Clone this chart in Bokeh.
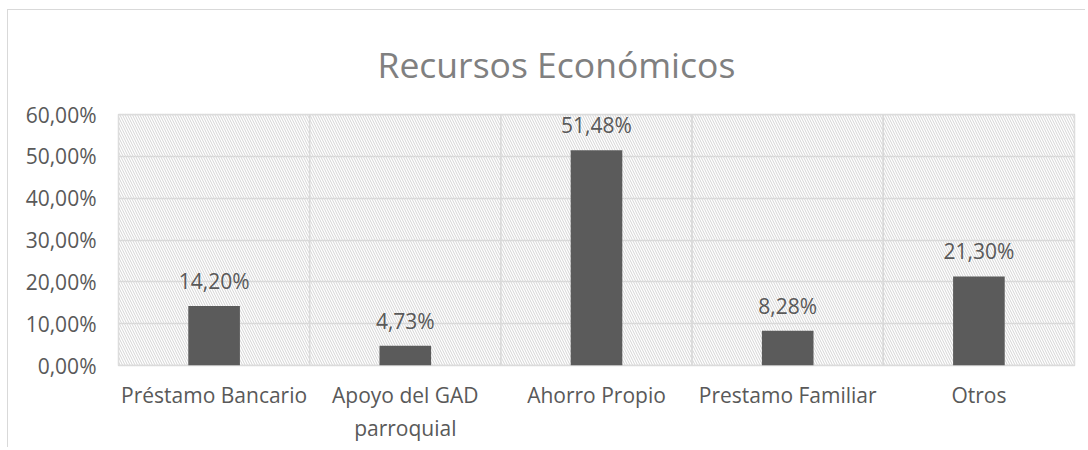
from bokeh.plotting import figure
from bokeh.models import FactorRange, Range1d, FixedTicker, ColumnDataSource
from bokeh.embed import file_html
from bokeh.resources import INLINE
from bokeh.core.properties import value

# ---- data ----
categories = ["Préstamo Bancario", "Apoyo del GAD\nparroquial", "Ahorro Propio",
              "Prestamo Familiar", "Otros"]
values = [14.20, 4.73, 51.48, 8.28, 21.30]
value_labels = ["14,20%", "4,73%", "51,48%", "8,28%", "21,30%"]
y_ticks = [0, 10, 20, 30, 40, 50, 60]
y_tick_labels = ["0,00%", "10,00%", "20,00%", "30,00%", "40,00%", "50,00%", "60,00%"]
title_text = "Recursos Económicos"

FONT = "Open Sans"
GRID = "#d9d9d9"
TXT = "#595959"

p = figure(width=1078, height=438, output_backend="svg", toolbar_location=None,
           x_range=FactorRange(factors=categories, range_padding=0),
           y_range=Range1d(y_ticks[0], y_ticks[-1]),
           min_border_left=110, min_border_right=12, min_border_top=0,
           min_border_bottom=83, title=title_text)
p.styles = {"margin-left": "7px", "margin-top": "9px",
            "border-top": "1px solid #d9d9d9", "border-left": "1px solid #d9d9d9"}

p.title.align = "left"
p.title.offset = 259
p.title.text_font = FONT
p.title.text_font_size = "35.5px"
p.title.text_font_style = "normal"
p.title.text_color = "#808080"
p.title.standoff = 54

p.outline_line_color = GRID
p.outline_line_width = 1.5
p.background_fill_color = "white"
p.border_fill_color = "white"

# hatched plot-area cells (also giving the vertical gridlines between categories)
cells = ColumnDataSource(dict(x=categories, top=[y_ticks[-1]] * len(categories)))
p.vbar(x="x", top="top", bottom=y_ticks[0], width=1, source=cells,
       fill_color="white", line_color=GRID, line_width=1.5,
       hatch_pattern="\\", hatch_color="#d4d4d4", hatch_scale=5, hatch_weight=1)

# horizontal gridlines (as glyphs, below the bars)
p.hspan(y=y_ticks, line_color=GRID, line_width=1.5)
p.xgrid.visible = False
p.ygrid.visible = False

src = ColumnDataSource(dict(x=categories, top=values, lab=value_labels))
p.vbar(x="x", top="top", width=0.27, source=src, fill_color="#5b5b5b", line_color=None)
p.text(x="x", y="top", text="lab", source=src, text_align="center",
       text_baseline="alphabetic", y_offset=-25, text_font=value(FONT),
       text_font_size="21px", text_color=TXT)

# axes
p.yaxis.ticker = FixedTicker(ticks=y_ticks)
p.yaxis.major_label_overrides = {t: l for t, l in zip(y_ticks, y_tick_labels)}
for ax in (p.xaxis[0], p.yaxis[0]):
    ax.axis_line_color = None
    ax.major_tick_line_color = None
    ax.minor_tick_line_color = None
    ax.major_tick_in = 0
    ax.major_tick_out = 0
    ax.major_label_text_font = FONT
    ax.major_label_text_font_size = "21px"
    ax.major_label_text_color = TXT
p.yaxis.major_label_standoff = 22
p.xaxis.major_label_standoff = 15
p.xaxis.major_label_orientation = "horizontal"

open("out.html", "w").write(file_html(p, INLINE))
